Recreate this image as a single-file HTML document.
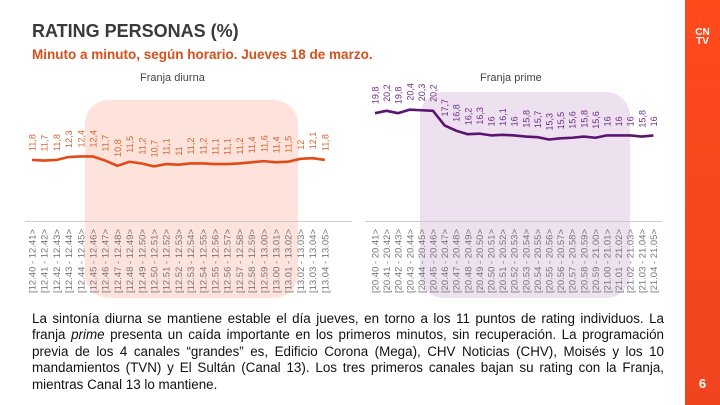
<!DOCTYPE html>
<html><head><meta charset="utf-8">
<style>
body{margin:0;width:720px;height:405px;overflow:hidden;background:#fff;font-family:"Liberation Sans",sans-serif;position:relative}
#title{position:absolute;left:32px;top:21px;font-size:18px;font-weight:bold;color:#3a3a3a;margin:0}
#sub{position:absolute;left:32px;top:47px;font-size:13.5px;font-weight:bold;color:#d4501c}
#bar{position:absolute;left:685px;top:0;width:35px;height:405px;background:linear-gradient(#ff4a1c,#f0441f)}
#logo{position:absolute;left:0;width:35px;top:28px;text-align:center;color:#fff;font-weight:bold;font-size:10px;line-height:9px}
#pg{position:absolute;left:0;width:35px;top:376px;text-align:center;color:#fff;font-weight:bold;font-size:13px}
#txt{position:absolute;left:32px;top:311px;width:632px;font-size:13.4px;line-height:16.4px;text-align:justify;color:#111}
svg{position:absolute;left:0;top:0}
</style></head><body>
<h1 id="title">RATING PERSONAS (%)</h1>
<div id="sub">Minuto a minuto, según horario. Jueves 18 de marzo.</div>
<svg id="chart" width="685" height="310"></svg>
<div id="bar"><div id="logo">CN<br>TV</div><div id="pg">6</div></div>
<div id="txt">La sintonía diurna se mantiene estable el día jueves, en torno a los 11 puntos de rating individuos. La franja <i>prime</i> presenta un caída importante en los primeros minutos, sin recuperación. La programación previa de los 4 canales “grandes” es, Edificio Corona (Mega), CHV Noticias (CHV), Moisés y los 10 mandamientos (TVN) y El Sultán (Canal 13). Los tres primeros canales bajan su rating con la Franja, mientras Canal 13 lo mantiene.</div>
<script>
const dayCats=["12.40 - 12.41>","12.41 - 12.42>","12.42 - 12.43>","12.43 - 12.44>","12.44 - 12.45>","12.45 - 12.46>","12.46 - 12.47>","12.47 - 12.48>","12.48 - 12.49>","12.49 - 12.50>","12.50 - 12.51>","12.51 - 12.52>","12.52 - 12.53>","12.53 - 12.54>","12.54 - 12.55>","12.55 - 12.56>","12.56 - 12.57>","12.57 - 12.58>","12.58 - 12.59>","12.59 - 13.00>","13.00 - 13.01>","13.01 - 13.02>","13.02 - 13.03>","13.03 - 13.04>","13.04 - 13.05>"];
const dayVals=[11.8,11.7,11.8,12.3,12.4,12.4,11.7,10.8,11.5,11.2,10.7,11.1,11,11.2,11.2,11.1,11.1,11.2,11.4,11.6,11.4,11.5,12,12.1,11.8];
const primeCats=["20.40 - 20.41>","20.41 - 20.42>","20.42 - 20.43>","20.43 - 20.44>","20.44 - 20.45>","20.45 - 20.46>","20.46 - 20.47>","20.47 - 20.48>","20.48 - 20.49>","20.49 - 20.50>","20.50 - 20.51>","20.51 - 20.52>","20.52 - 20.53>","20.53 - 20.54>","20.54 - 20.55>","20.55 - 20.56>","20.56 - 20.57>","20.57 - 20.58>","20.58 - 20.59>","20.59 - 21.00>","21.00 - 21.01>","21.01 - 21.02>","21.02 - 21.03>","21.03 - 21.04>","21.04 - 21.05>"];
const primeVals=[19.8,20.2,19.8,20.4,20.3,20.2,17.7,16.8,16.2,16.3,16,16.1,16,15.8,15.7,15.3,15.5,15.6,15.8,15.6,16,16,16,15.8,16];
const fmt=v=>String(v).replace('.',',');
const svg=document.getElementById('chart');
const NS='http://www.w3.org/2000/svg';
function mk(t,a){const e=document.createElementNS(NS,t);for(const k in a)e.setAttribute(k,a[k]);svg.appendChild(e);return e;}
const yS=v=>229-v*5.85;
function panel(cats,vals,x0,step,bg,line,lbl,title,tx,name,axX1,axX2){
  const r=mk('rect',{x:bg[0],y:bg[1],width:bg[2],height:bg[3],rx:24,fill:bg[4]});
  
  
  const t=mk('text',{x:tx,y:81,'font-size':11,fill:'#444'});t.textContent=title;
  
  
  const ax=mk('line',{x1:axX1,x2:axX2,y1:221.5,y2:221.5,stroke:'#ccc','stroke-width':1});
  
  
  const xS=i=>x0+i*step;
  const p=mk('polyline',{points:vals.map((v,i)=>xS(i)+','+yS(v)).join(' '),fill:'none',stroke:line,'stroke-width':2.6,'stroke-linejoin':'round'});
  
  
  vals.forEach((v,i)=>{
    const x=xS(i)+3.5,y=yS(v)-9;
    const e=mk('text',{x:0,y:0,transform:`translate(${x},${y}) rotate(-90)`,'font-size':9,fill:lbl});
    e.textContent=fmt(v);
    
    
  });
  cats.forEach((c,i)=>{
    const x=xS(i)+3.5;
    const e=mk('text',{x:0,y:0,transform:`translate(${x},293) rotate(-90)`,'font-size':9,fill:'#777',textLength:64,lengthAdjust:'spacingAndGlyphs'});
    e.textContent='['+c;
    
    
  });
}
panel(dayCats,dayVals,32,12.2,[85,100,213,198,'#fde3dc'],'#e24a17','#d2642e','Franja diurna',140,'diurna',25,352);
panel(primeCats,primeVals,375,11.6,[420,92,210,206,'#ede0ef'],'#5a1472','#6e2a86','Franja prime',480,'prime',365,662);
</script>
</body></html>
